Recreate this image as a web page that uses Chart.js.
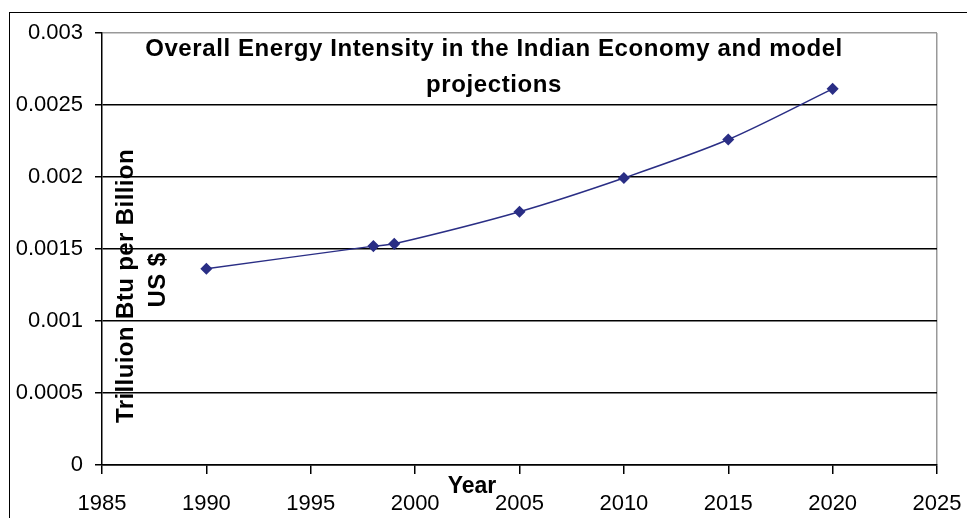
<!DOCTYPE html>
<html>
<head>
<meta charset="utf-8">
<script src="https://cdn.jsdelivr.net/npm/chart.js@4.4.0/dist/chart.umd.min.js"></script>
<style>
  html, body { margin: 0; padding: 0; background: #fff; }
  #wrap { width: 967px; height: 518px; }
</style>
</head>
<body>
<div id="wrap"><canvas id="energyChart" width="967" height="518"></canvas></div>
<script>
// chart data
var years = [1990, 1998, 1999, 2005, 2010, 2015, 2020];
var intensity = [0.001363, 0.00152, 0.001536, 0.001759, 0.001993, 0.00226, 0.002612];
var titleLines = ['Overall Energy Intensity in the Indian Economy and model', 'projections'];
var yTitleLines = ['Trilluion Btu per Billion', 'US $'];
var xTitle = 'Year';

var points = years.map(function (y, i) { return { x: y, y: intensity[i] }; });

// frame + titles drawn over the plot area, like the excel original
var overlay = {
    id: 'overlay',
    beforeDraw: function (chart) {
        var c = chart.ctx;
        c.save();
        c.fillStyle = '#fff';
        c.fillRect(0, 0, chart.width, chart.height);
        c.strokeStyle = '#000';
        c.lineWidth = 1;
        c.strokeRect(9.5, 12.5, 1100, 1100);
        c.restore();
    },
    afterDraw: function (chart) {
        var c = chart.ctx;
        var a = chart.chartArea;
        c.save();
        c.fillStyle = '#000';
        c.textAlign = 'center';
        c.textBaseline = 'middle';
        c.font = 'bold 24px "Liberation Sans", Arial, sans-serif';
        c.letterSpacing = '0.6px';
        c.fillText(titleLines[0], 494, a.top + 16);
        c.fillText(titleLines[1], 494, a.top + 52);

        c.letterSpacing = '0.4px';
        c.save();
        c.translate(126, 286);
        c.rotate(-Math.PI / 2);
        c.fillText(yTitleLines[0], 0, 0);
        c.fillText(yTitleLines[1], 6, 32);
        c.restore();

        c.letterSpacing = '0px';
        c.font = 'bold 23px "Liberation Sans", Arial, sans-serif';
        c.fillText(xTitle, 472, 487);
        c.restore();
    }
};

var ctx = document.getElementById('energyChart').getContext('2d');
var energyChart = new Chart(ctx, {
    type: 'line',
    data: {
        datasets: [{
            label: 'Energy intensity',
            data: points,
            borderColor: '#2a2e85',
            backgroundColor: '#2a2e85',
            borderWidth: 1.5,
            pointStyle: 'rectRot',
            pointRadius: 5,
            pointHoverRadius: 5,
            tension: 0.3,
            fill: false
        }]
    },
    options: {
        responsive: false,
        animation: false,
        layout: { padding: { left: 0, right: 30, top: 33, bottom: 0 } },
        plugins: {
            legend: { display: false },
            title: { display: false },
            tooltip: { enabled: false }
        },
        scales: {
            x: {
                type: 'linear',
                min: 1985,
                max: 2025,
                afterFit: function (scale) {
                    scale.height = 53;
                    scale.paddingLeft = 0;
                    scale.paddingRight = 0;
                },
                ticks: {
                    stepSize: 5,
                    color: '#000',
                    padding: 17,
                    maxRotation: 0,
                    font: { family: '"Liberation Sans", Arial, sans-serif', size: 22 },
                    callback: function (v) { return String(v); }
                },
                grid: {
                    color: function (c) { return c.tick && c.tick.value === 2025 ? '#999' : 'rgba(0,0,0,0)'; },
                    tickColor: '#000',
                    tickLength: 9,
                    lineWidth: 1.5
                },
                border: { display: true, color: '#000', width: 1.5 }
            },
            y: {
                min: 0,
                max: 0.003,
                afterFit: function (scale) { scale.width = 102; },
                ticks: {
                    stepSize: 0.0005,
                    color: '#000',
                    padding: 12,
                    font: { family: '"Liberation Sans", Arial, sans-serif', size: 22 },
                    callback: function (v) { return String(parseFloat(v.toFixed(4))); }
                },
                grid: {
                    color: function (c) { return c.tick && c.tick.value >= 0.003 ? '#999' : '#000'; },
                    tickColor: '#000',
                    tickLength: 7,
                    lineWidth: 1.5
                },
                border: { display: true, color: '#000', width: 1.5 }
            }
        }
    },
    plugins: [overlay]
});
</script>
</body>
</html>
